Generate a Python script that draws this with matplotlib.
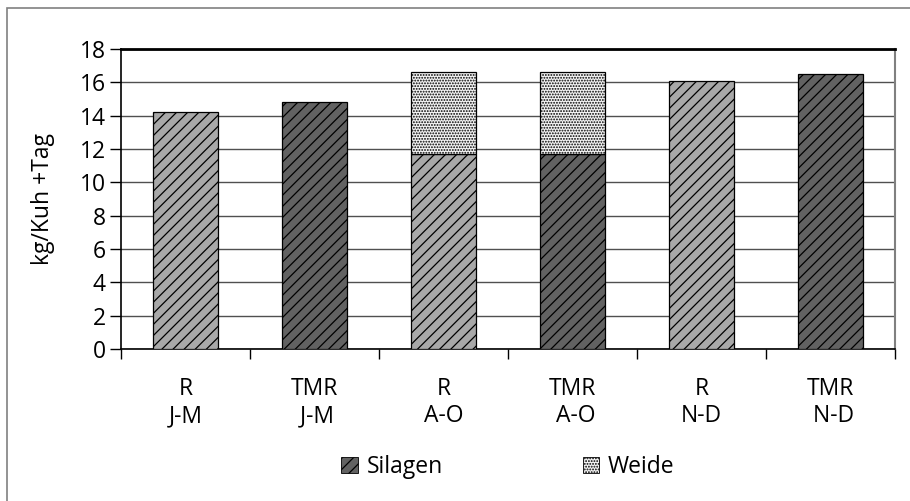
import numpy as np
import matplotlib
matplotlib.use('Agg')
from matplotlib import pyplot
from matplotlib.patches import Patch, Rectangle

pyplot.rcParams['font.family'] = ['Open Sans', 'DejaVu Sans']
pyplot.rcParams['hatch.linewidth'] = 0.9

categories = ['R\nJ-M', 'TMR\n J-M', 'R\nA-O', 'TMR\n A-O', 'R\nN-D', 'TMR\n N-D']
silagen = [14.2, 14.8, 11.7, 11.7, 16.1, 16.5]
weide = [0, 0, 4.9, 4.9, 0, 0]
ration = ['R', 'TMR', 'R', 'TMR', 'R', 'TMR']

shade = {'R': '#a8a8a8', 'TMR': '#626262'}
fs = 16.5

fig = pyplot.figure(figsize=(9.10, 5.01), dpi=100)
ax = fig.add_axes([121 / 910, 1 - 349 / 501, (895 - 121) / 910, (349 - 49) / 501])

# outer chart frame
fig.patches.append(Rectangle((7 / 910, -0.1), 1.2, 1 - 8 / 501 + 0.1,
                             transform=fig.transFigure, fill=False,
                             edgecolor='#808080', linewidth=1.2))

x = np.arange(len(categories))
width = 0.51
has_weide = np.array(weide) > 0
ax.bar(x, silagen, width, color=[shade[r] for r in ration],
       edgecolor='black', linewidth=0.9, hatch='///', zorder=3)
ax.bar(x[has_weide], np.array(weide)[has_weide], width,
       bottom=np.array(silagen)[has_weide], color='#f4f4f4',
       edgecolor='black', linewidth=0.9, hatch='......', zorder=3)

ax.set_xlim(-0.5, len(categories) - 0.5)
ax.set_ylim(0, 18)
ax.set_yticks(np.arange(0, 19, 2))
ax.yaxis.grid(True, color='#505050', linewidth=1.0, zorder=0)
ax.set_axisbelow(True)

ax.set_xticks(x)
ax.set_xticklabels(categories, fontsize=fs, linespacing=1.2)
ax.set_xticks(np.arange(-0.5, len(categories)), minor=True)
ax.tick_params(axis='x', which='major', length=0, pad=20)
ax.tick_params(axis='x', which='minor', length=7, width=1.0, direction='out')
ax.tick_params(axis='y', length=8, width=1.0, direction='out', labelsize=fs, pad=3)

ax.spines['top'].set_linewidth(2.0)
ax.spines['right'].set_color('#808080')
ax.spines['right'].set_linewidth(1.5)
ax.spines['left'].set_linewidth(1.2)
ax.spines['bottom'].set_linewidth(1.2)

ax.set_ylabel('kg/Kuh +Tag', fontsize=fs, labelpad=18)

handles = [Patch(facecolor=shade['TMR'], edgecolor='black', hatch='///', linewidth=0.6),
           Patch(facecolor='#f4f4f4', edgecolor='black', hatch='......', linewidth=0.6)]
fig.legend(handles, ['Silagen', 'Weide'], loc='center', ncol=2,
           bbox_to_anchor=(508 / 910, 1 - 467 / 501), frameon=False,
           fontsize=fs, handlelength=0.7, handleheight=0.7, handletextpad=0.4,
           columnspacing=6.1)

fig.savefig('out.png', dpi=100)
